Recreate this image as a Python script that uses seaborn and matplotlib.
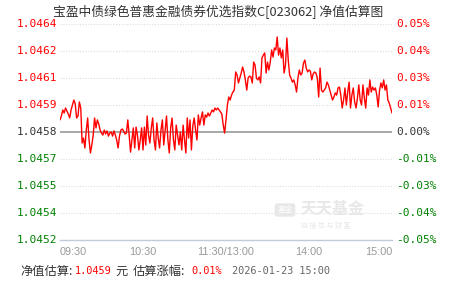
import numpy as np
import pandas as pd
import matplotlib
matplotlib.use("Agg")
import matplotlib.pyplot as plt
import seaborn as sns

title = "宝盈中债绿色普惠金融债券优选指数C[023062] 净值估算图"
left_labels = ["1.0452", "1.0454", "1.0455", "1.0457", "1.0458", "1.0459", "1.0461", "1.0462", "1.0464"]
right_labels = ["-0.05%", "-0.04%", "-0.03%", "-0.01%", "0.00%", "0.01%", "0.03%", "0.04%", "0.05%"]
tick_pcts = [-0.05, -0.0375, -0.025, -0.0125, 0.0, 0.0125, 0.025, 0.0375, 0.05]
time_ticks = [0, 30, 60, 90, 120, 150, 180, 210, 240]
time_labels = ["09:30", "", "10:30", "", "11:30/13:00", "", "14:00", "", "15:00"]

# estimated change (%) per minute
change_pct = [
    0.0056, 0.0074, 0.0102, 0.0088, 0.0111, 0.0097, 0.0083, 0.0065, 0.0102, 0.0125, 0.0148, 0.0130, 0.0065, 0.0074, 0.0139, 0.0111,
    -0.0051, -0.0028, -0.0074, 0.0009, 0.0065, -0.0037, -0.0097, -0.0060, -0.0014, 0.0065, 0.0019, 0.0056, 0.0037, 0.0009, -0.0005,
    -0.0014, 0.0009, -0.0009, 0.0005, -0.0019, -0.0005, 0.0, -0.0019, 0.0005, -0.0014, -0.0037, -0.0074, -0.0019, 0.0009, 0.0014, 0.0005, -0.0009, -0.0005,
    0.0056, -0.0014, -0.0093, -0.0037, 0.0019, -0.0074, 0.0023, -0.0014, -0.0083, -0.0037, 0.0019,
    -0.0083, 0.0023, -0.0060, 0.0074, -0.0014, -0.0051, 0.0019, 0.0065, -0.0037, -0.0083, 0.0042, -0.0028, -0.0074, 0.0009,
    0.0056, -0.0060, 0.0009, 0.0074, -0.0037, -0.0097, 0.0019, 0.0065, -0.0037, -0.0083, 0.0032, -0.0014, -0.0060, 0.0,
    -0.0083, 0.0032, -0.0037, -0.0097, 0.0065, -0.0028, 0.0056, -0.0083, 0.0028, 0.0065, 0.0009, -0.0037, 0.0079, 0.0032,
    0.0065, 0.0093, 0.0032, 0.0079, 0.0069, 0.0088, 0.0074, 0.0088, 0.0102, 0.0093, 0.0111, 0.0102, 0.0111, 0.0102, 0.0093, 0.0083, 0.0032, -0.0005, 0.0056, 0.0125, 0.0162, 0.0148, 0.0171,
    0.0185, 0.0194, 0.0278, 0.0264, 0.0227, 0.0250, 0.0273, 0.0301, 0.0278, 0.0241, 0.0194, 0.0250, 0.0259, 0.0255,
    0.0227, 0.0324, 0.0310, 0.0250, 0.0241, 0.0255, 0.0227, 0.0343, 0.0356, 0.0366, 0.0273, 0.0324, 0.0287, 0.0324, 0.0380, 0.0347, 0.0389,
    0.0380, 0.0440, 0.0356, 0.0389, 0.0343, 0.0380, 0.0273, 0.0310, 0.0435, 0.0333, 0.0264, 0.0250, 0.0231,
    0.0241, 0.0218, 0.0185, 0.0250, 0.0287, 0.0264, 0.0273, 0.0319, 0.0333, 0.0296, 0.0278, 0.0287, 0.0282, 0.0241, 0.0269, 0.0278, 0.0273,
    0.0250, 0.0162, 0.0296, 0.0194, 0.0185, 0.0194, 0.0204, 0.0231, 0.0218, 0.0194, 0.0171, 0.0148, 0.0162, 0.0181,
    0.0171, 0.0204, 0.0208, 0.0171, 0.0111, 0.0148, 0.0204, 0.0125, 0.0185, 0.0231, 0.0111, 0.0171, 0.0204, 0.0139,
    0.0111, 0.0157, 0.0218, 0.0148, 0.0125, 0.0218, 0.0157, 0.0111, 0.0204, 0.0171, 0.0241, 0.0185, 0.0208, 0.0194,
    0.0204, 0.0171, 0.0116, 0.0194, 0.0227, 0.0204, 0.0241, 0.0194, 0.0218, 0.0148, 0.0134, 0.0111, 0.0088,
]
minutes = list(range(len(change_pct)))

sns.set_style("white")
plt.rcParams["font.family"] = ["Noto Sans CJK SC", "DejaVu Sans"]

W, H = 451, 281
fig = plt.figure(figsize=(W / 100, H / 100), dpi=100)
ax = fig.add_axes([60 / W, 1 - 240 / H, 332 / W, 216 / H])

df = pd.DataFrame({"minute": minutes, "pct": change_pct})
sns.lineplot(data=df, x="minute", y="pct", ax=ax, color="#ff0000", linewidth=1.0)

ax.set_xlim(0, 240)
ax.set_ylim(-0.05, 0.05)
ax.set_xlabel("")
ax.set_ylabel("")

for t in tick_pcts:
    if t == 0:
        ax.axhline(t, color="#999999", lw=1.2, zorder=1)
    elif t != -0.05:
        ax.axhline(t, color="#dddddd", lw=0.8, ls=(0, (1, 1.5)), zorder=0)

for s in ["top", "right", "left"]:
    ax.spines[s].set_visible(False)
ax.spines["bottom"].set_color("#c0ccd8")
ax.spines["bottom"].set_linewidth(1.0)

ax.set_xticks(time_ticks)
ax.set_xticklabels([])
ax.tick_params(axis="x", direction="out", length=4, color="#c0ccd8", width=1)
ax.set_yticks(tick_pcts)
ax.set_yticklabels([])
ax.tick_params(axis="y", length=0)

mono = "DejaVu Sans Mono"
def col(i):
    if tick_pcts[i] > 0:
        return "#ff0000"
    if tick_pcts[i] < 0:
        return "#008000"
    return "#333333"

for i, t in enumerate(tick_pcts):
    ax.text(-0.008, t, left_labels[i], transform=ax.get_yaxis_transform(), ha="right", va="center",
            fontsize=8, family=mono, color=col(i))
    ax.text(1.012, t, right_labels[i], transform=ax.get_yaxis_transform(), ha="left", va="center",
            fontsize=8, family=mono, color=col(i))

for t, lab in zip(time_ticks, time_labels):
    if not lab:
        continue
    ha = "center"
    if t == time_ticks[0]:
        ha = "left"
    elif t == time_ticks[-1]:
        ha = "right"
    ax.text(t, -0.0555, lab, transform=ax.transData, ha=ha, va="center", fontsize=7.8,
            family=["Liberation Sans", "DejaVu Sans"], color="#999999")

fig.text(218 / W, 1 - 12 / H, title, ha="center", va="center", fontsize=9.2, color="#333333")

# watermark
fig.text(285 / W, 1 - 210 / H, "基金", ha="center", va="center", fontsize=5.5, color="white",
         bbox=dict(boxstyle="round,pad=0.35", fc="#e8e8e8", ec="none"))
fig.text(301 / W, 1 - 209 / H, "天天基金", ha="left", va="center", fontsize=11.5, color="#e8e8e8", weight="bold")
fig.text(301 / W, 1 - 226 / H, "链 接 您 与 财 富", ha="left", va="center", fontsize=5, color="#e8e8e8")

# footer
y_f = 1 - 271 / H
parts = [("净值估算:", "#333333", 20), ("1.0459", "#ff0000", 75), ("元", "#333333", 115),
         ("估算涨幅:", "#333333", 133), ("0.01%", "#ff0000", 191), ("2026-01-23 15:00", "#666666", 232)]
for txt, c, x in parts:
    if txt[0].isdigit():
        fig.text(x / W, y_f, txt, ha="left", va="center", fontsize=7.4, color=c, family=[mono, "Noto Sans CJK SC"])
    else:
        fig.text(x / W, y_f, txt, ha="left", va="center", fontsize=8.8, color=c, family=["Noto Sans CJK SC", "DejaVu Sans"])

fig.savefig("out.png", dpi=100)
